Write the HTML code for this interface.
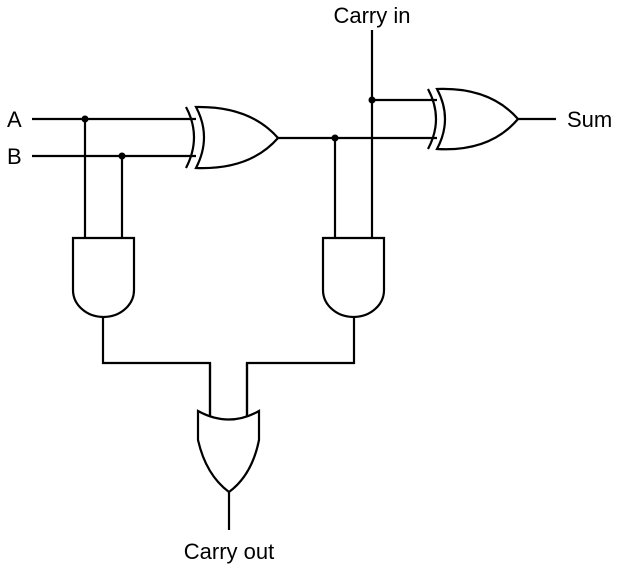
<!DOCTYPE html>
<html><head><meta charset="utf-8"><style>
html,body{margin:0;padding:0;background:#fff;}
svg{display:block;}
text{font-family:"Liberation Sans",sans-serif;font-size:22px;fill:#000;}
</style></head><body>
<svg width="622" height="572" viewBox="0 0 622 572">
<g fill="none" stroke="#000" stroke-width="2.2">
  <path d="M32 119 H196"/>
  <path d="M32 156 H196"/>
  <path d="M85 119 V238"/>
  <path d="M122 156 V238"/>
  <path d="M278 138 H437"/>
  <path d="M372 30 V238"/>
  <path d="M372 100 H437"/>
  <path d="M335 138 V238"/>
  <path d="M518 119 H556"/>
  <path d="M103 317 V363 H210 V416"/>
  <path d="M354 317 V363 H247 V416"/>
  <path d="M229 492 V530"/>
  <g>
    <path d="M196 107 Q212 137 196 168 Q250 170 278 138 Q250 106 196 107 Z" fill="#fff"/>
    <path d="M186 107 Q202 137 186 168"/>
  </g>
  <g>
    <path d="M437 89 Q453 119 437 149 Q490 152 518 119 Q490 87 437 89 Z" fill="#fff"/>
    <path d="M428 89 Q444 119 428 149"/>
  </g>
  <path d="M73 238 H134 V290 A30.5 27 0 0 1 73 290 Z" fill="#fff"/>
  <path d="M323 238 H384 V290 A30.5 27 0 0 1 323 290 Z" fill="#fff"/>
  <path d="M198 411 Q229 428 259 411 V440 Q252 475 229 492 Q206 475 198 440 Z" fill="#fff"/>
  <path d="M210 363 V416 M247 363 V416"/>
</g>
<g fill="#000">
  <circle cx="85" cy="119" r="3.5"/>
  <circle cx="122" cy="156" r="3.5"/>
  <circle cx="335" cy="138" r="3.5"/>
  <circle cx="372" cy="100" r="3.5"/>
</g>
<text x="372" y="23" text-anchor="middle">Carry in</text>
<text x="7" y="127">A</text>
<text x="7" y="164">B</text>
<text x="567" y="127">Sum</text>
<text x="229" y="559" text-anchor="middle">Carry out</text>
</svg>
</body></html>
